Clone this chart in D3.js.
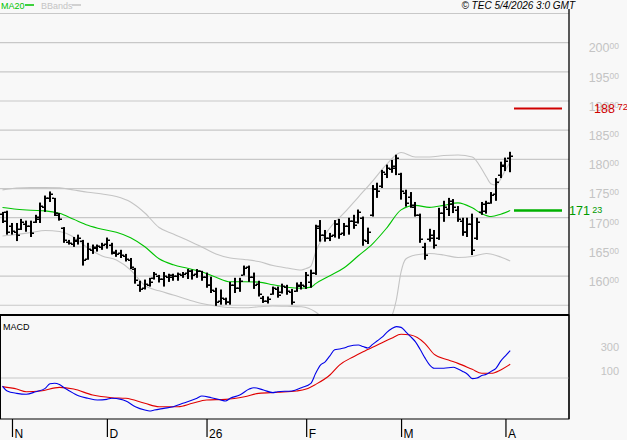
<!DOCTYPE html>
<html><head><meta charset="utf-8">
<script src="https://cdn.jsdelivr.net/npm/d3@7"></script>
<style>body{margin:0;background:#f8f8f8}svg{display:block}</style>
</head><body>
<svg id="c" width="627" height="440"></svg>
<script>
// ---- DATA (bar index 0 = 30 Oct 2025, last = 2 Apr 2026) ----
const opens = [
170.7,171.0,168.5,167.6,168.0,169.0,168.6,169.3,169.8,171.8,
173.4,173.3,170.5,168.2,165.9,165.5,166.0,166.0,163.0,164.5,
164.8,165.0,165.5,165.4,164.2,163.9,163.4,162.8,161.2,158.4,
158.0,158.5,159.6,160.0,159.5,159.8,159.9,160.0,160.2,160.5,
160.8,160.3,160.8,159.9,158.5,157.5,155.8,156.0,155.6,158.5,
158.0,160.2,161.5,159.8,158.6,156.3,155.7,156.9,157.8,157.3,
158.2,157.2,157.5,158.3,158.3,159.0,160.6,168.5,167.0,166.6,
167.0,169.0,167.3,168.5,169.4,169.2,170.0,166.0,170.4,175.0,
175.4,177.5,178.4,178.5,177.5,174.2,173.5,171.8,170.5,165.0,
166.3,166.6,166.5,170.8,171.5,172.4,171.4,169.5,167.5,169.0,
166.5,171.0,171.2,172.6,174.0,177.3,179.0,180.2];
const highs = [
171.0,171.2,169.1,169.1,169.8,169.5,169.5,170.5,172.6,173.8,
174.5,173.4,170.8,168.4,166.2,166.7,167.1,166.2,165.7,165.4,
165.4,165.7,166.6,165.7,164.5,164.5,163.8,163.1,161.4,159.2,
159.4,159.7,160.7,160.2,160.7,160.4,160.4,160.6,160.7,161.2,
161.1,161.2,160.9,160.6,159.9,158.0,157.7,156.3,159.0,159.7,
159.7,161.8,161.8,160.6,159.2,156.6,156.5,158.2,158.2,158.7,
158.5,157.8,158.9,159.0,160.7,161.1,168.8,169.6,167.9,167.4,
169.6,169.8,169.1,170.0,170.5,171.4,170.2,168.3,175.6,176.0,
178.2,179.1,179.9,180.8,177.7,174.8,174.4,172.7,170.7,165.7,
168.1,167.9,171.7,172.9,173.4,173.2,172.0,170.0,170.0,170.7,
170.0,172.7,172.9,174.4,176.8,179.6,180.3,181.3];
const lows = [
169.1,167.1,167.1,166.0,167.9,167.6,166.7,169.1,169.1,171.0,
172.7,170.3,169.5,165.7,165.4,165.0,165.4,161.8,162.8,163.8,
164.2,164.5,164.7,163.7,163.3,163.1,162.5,161.2,158.7,157.3,
157.7,158.2,159.4,158.9,158.2,159.0,159.2,159.2,159.7,159.5,
159.4,159.7,159.2,158.0,157.1,154.9,155.1,155.1,155.1,157.1,
157.3,160.1,159.0,157.8,156.5,155.4,155.3,156.8,156.3,157.0,
156.8,155.1,157.3,157.7,157.8,158.0,160.2,165.9,165.9,166.0,
166.6,166.4,166.9,167.1,168.1,169.0,165.2,165.5,170.2,173.4,
175.1,176.8,177.7,177.3,173.1,171.9,171.7,170.2,165.7,162.8,
165.9,164.7,166.2,169.3,170.3,170.8,169.3,166.9,166.7,163.6,
166.2,170.5,170.7,172.4,172.9,176.8,178.0,177.8];
const closes = [
169.5,167.6,167.8,167.0,169.2,168.5,167.3,170.1,172.0,173.3,
174.0,170.8,169.8,166.2,165.6,166.2,166.5,162.8,164.6,164.9,
165.1,165.4,166.2,164.0,163.8,163.6,162.9,161.6,159.3,157.8,
158.6,159.0,160.3,159.5,160.0,160.1,160.0,160.3,160.4,160.8,
160.1,160.9,159.8,158.4,157.6,155.6,156.2,155.6,158.4,158.0,
159.2,161.4,159.8,158.5,157.0,155.8,156.0,157.9,156.8,158.3,
157.5,155.6,158.4,158.5,160.2,160.6,168.2,167.0,166.6,166.9,
169.0,167.2,168.6,169.5,168.8,170.9,166.2,167.5,175.0,174.6,
177.8,178.6,178.9,180.2,174.5,172.6,172.2,170.5,166.3,163.6,
167.0,165.3,170.8,171.9,172.8,171.8,169.8,167.6,168.9,164.5,
169.2,172.4,172.6,173.9,176.2,178.9,179.8,180.6];

// MA20 and Bollinger bands, read at selected bar indices
const maIdx = [0,3,6,9,12,15,18,21,24,27,30,33,36,39,42,45,48,51,54,57,60,63,65,66,69,72,75,78,81,84,87,90,93,96,99,101,103,105,107];
const maVal = [171.75,171.44,171.27,171.18,170.75,169.73,168.70,168.01,167.50,166.56,165.02,162.96,161.93,161.33,160.74,159.79,159.02,159.02,158.97,158.51,158.08,157.91,158.10,158.70,160.05,161.42,163.48,165.53,168.27,171.35,172.12,171.78,172.12,172.55,171.69,170.70,170.20,170.60,171.23];
const upIdx = [0,3,6,9,12,15,18,21,24,27,30,33,36,39,42,45,48,51,54,57,60,63,64,65,66,69,72,75,78,81,84,87,90,93,96,99,101,102,103,104,105,106,107];
const upVal = [174.78,175.09,175.18,175.18,175.14,174.75,174.37,174.06,173.63,172.69,170.81,168.32,167.21,166.15,164.98,163.78,163.09,162.84,162.49,161.81,161.38,161.04,161.29,161.72,164.12,168.24,170.81,173.55,176.29,179.20,181.17,180.40,180.40,180.66,180.75,180.40,178.35,176.98,175.78,175.61,176.63,178.18,179.55];
const loIdx = [0,3,6,9,12,15,18,21,24,27,30,33,36,39,42,45,48,51,54,57,60,63,66,69,72,75,78,81,83,84,85,87,90,93,96,99,102,105,107];
const loVal = [166.86,167.12,167.46,167.81,167.64,166.69,164.81,163.44,162.75,161.04,158.38,157.47,156.75,155.98,155.30,154.87,154.61,154.58,154.73,154.87,154.82,154.73,153.84,151.61,150.41,149.90,150.24,151.61,155.90,160.70,162.92,163.61,163.87,163.61,163.18,163.35,163.87,163.27,162.58];

// MACD (blue) and signal (red)
const macdIdx = [0,1,3,5,7,9,10,11,12,13,15,16,18,20,22,23,25,26,28,30,31,32,34,36,38,41,42,44,46,47,48,50,52,53,55,57,58,61,63,65,66,67,68,69,70,71,72,73,75,76,77,78,79,80,81,82,83,84,85,86,87,88,89,90,91,93,95,96,97,98,99,100,101,102,103,104,105,106,107];
const macdVal = [-67,-108,-128,-136,-114,-86,-48,-44,-55,-81,-128,-148,-169,-183,-178,-169,-178,-192,-239,-267,-275,-267,-253,-239,-211,-169,-150,-164,-183,-192,-169,-142,-92,-81,-100,-122,-114,-108,-81,-44,39,108,135,185,235,242,250,265,275,262,250,280,310,340,380,410,428,422,385,345,303,240,170,110,81,81,89,75,55,31,-5,0,20,31,55,81,140,185,228];
const sigIdx = [0,3,5,8,12,15,19,23,26,30,33,37,40,43,47,51,54,58,62,64,66,69,71,74,76,79,82,84,86,89,91,94,96,99,101,103,105,107];
const sigVal = [-72,-92,-114,-108,-78,-92,-142,-164,-169,-211,-239,-239,-211,-183,-178,-156,-128,-119,-108,-92,-53,25,108,178,219,275,331,364,358,289,197,150,122,72,39,39,67,114];

const gridVals = [155,160,165,170,175,180,185,190,195,200,205];
const priceTicks = [160,165,170,175,180,185,190,195,200];
const macdTicks = [100,300];
const monthIdx = [2,22,43,64,84,106];
const monthLabels = ["N","D","26","F","M","A"];
const targetLevel = 188.72;
const maLast = 171.23;

// ---- DRAW ----
const svg = d3.select('#c');
const FONT = "'Liberation Sans', Arial, sans-serif";
svg.append('rect').attr('width',627).attr('height',440).attr('fill','#f8f8f8');

const x = d3.scaleLinear().domain([0,107]).range([2.5,510.2]);
const y = d3.scaleLinear().domain([153.5,205.6]).range([314,10]);
const ym = d3.scaleLinear().domain([-333.3,516.7]).range([418,316]);
const PR = 569;

const defs = svg.append('defs');
defs.append('clipPath').attr('id','cm').append('rect').attr('x',0).attr('y',10).attr('width',PR).attr('height',304);
defs.append('clipPath').attr('id','cd').append('rect').attr('x',0).attr('y',316).attr('width',PR).attr('height',102);

const main = svg.append('g').attr('clip-path','url(#cm)');
main.selectAll('line.grid').data(gridVals).join('line')
  .attr('x1',0).attr('x2',PR).attr('y1',d=>y(d)).attr('y2',d=>y(d))
  .attr('stroke','#c8c8c8').attr('stroke-width',1.2);

const lineOf = (idx, sc) => d3.line().x((d,i)=>x(idx[i])).y(d=>sc(d)).curve(d3.curveMonotoneX);
main.append('path').attr('d',lineOf(upIdx,y)(upVal)).attr('fill','none').attr('stroke','#c4c4c4').attr('stroke-width',1.1);
main.append('path').attr('d',lineOf(loIdx,y)(loVal)).attr('fill','none').attr('stroke','#c4c4c4').attr('stroke-width',1.1);
main.append('path').attr('d',lineOf(maIdx,y)(maVal)).attr('fill','none').attr('stroke','#00c400').attr('stroke-width',1.1);

const bars = main.append('g').attr('fill','#000');
closes.forEach((c,i)=>{
  const cx = Math.round(x(i));
  const yh = y(highs[i]), yl = y(lows[i]);
  bars.append('rect').attr('x',cx-1).attr('y',yh).attr('width',2).attr('height',Math.max(1,yl-yh));
  bars.append('rect').attr('x',cx-3).attr('y',Math.round(y(opens[i]))-0.5).attr('width',2).attr('height',1.5);
  bars.append('rect').attr('x',cx+1).attr('y',Math.round(y(c))-0.5).attr('width',2).attr('height',1.5);
});

// target and MA level markers
svg.append('line').attr('x1',514).attr('x2',562).attr('y1',y(targetLevel)).attr('y2',y(targetLevel)).attr('stroke','#d00000').attr('stroke-width',2);
svg.append('line').attr('x1',514).attr('x2',562).attr('y1',y(maLast)).attr('y2',y(maLast)).attr('stroke','#00b000').attr('stroke-width',2.5);

// price axis
const pAxis = svg.append('g').attr('transform',`translate(619,0)`)
  .call(d3.axisRight(y).tickValues(priceTicks).tickSize(0));
pAxis.select('.domain').remove();
pAxis.selectAll('text').each(function(d){
  const t = d3.select(this).text('').attr('x',0).attr('dy',null).attr('y',9.3)
    .attr('text-anchor','end').attr('fill','#c4c4c4').style('font-family',FONT).style('font-size','12.5px');
  const s = d.toFixed(2).split('.');
  t.append('tspan').text(s[0]);
  t.append('tspan').text(s[1]).style('font-size','8.5px').attr('dy',-3);
});

function levelLabel(v, xx, col, big, small){
  const s = v.toFixed(2).split('.');
  const t = svg.append('text').attr('x',xx).attr('y',y(v)+4.5).attr('fill',col)
    .style('font-family',FONT).style('font-size',big+'px');
  t.append('tspan').text(s[0]);
  t.append('tspan').text(' '+s[1]).style('font-size',small+'px').attr('dy',-2.5);
}
levelLabel(targetLevel, 594, '#d00000', 12.5, 9.5);
levelLabel(maLast, 569, '#009a00', 12.5, 9);

// main panel borders
svg.append('line').attr('x1',PR).attr('x2',PR).attr('y1',9).attr('y2',419).attr('stroke','#000').attr('stroke-width',1.3);
svg.append('line').attr('x1',0).attr('x2',PR).attr('y1',315).attr('y2',315).attr('stroke','#000').attr('stroke-width',2);

// MACD panel
const mg = svg.append('g').attr('clip-path','url(#cd)');
mg.append('line').attr('x1',0).attr('x2',PR).attr('y1',ym(0)).attr('y2',ym(0)).attr('stroke','#c8c8c8').attr('stroke-width',1.2);
mg.append('path').attr('d',lineOf(sigIdx,ym)(sigVal)).attr('fill','none').attr('stroke','#e00000').attr('stroke-width',1.1);
mg.append('path').attr('d',lineOf(macdIdx,ym)(macdVal)).attr('fill','none').attr('stroke','#0000e8').attr('stroke-width',1.1);
svg.append('rect').attr('x',0.5).attr('y',315).attr('width',PR-0.5).attr('height',104).attr('fill','none').attr('stroke','#000').attr('stroke-width',1);
svg.append('text').attr('x',3).attr('y',330).text('MACD').attr('fill','#000').style('font-family',FONT).style('font-size','9px');

const mAxis = svg.append('g').attr('transform','translate(619,0)')
  .call(d3.axisRight(ym).tickValues(macdTicks).tickSize(0).tickFormat(d3.format('d')));
mAxis.select('.domain').remove();
mAxis.selectAll('text').attr('x',0).attr('dy',null).attr('y',8.5).attr('text-anchor','end')
  .attr('fill','#c4c4c4').style('font-family',FONT).style('font-size','11px');

// time axis
const xAxis = svg.append('g').attr('transform','translate(0,419)')
  .call(d3.axisBottom(x).tickValues(monthIdx).tickSize(18).tickFormat((d,i)=>monthLabels[i]));
xAxis.select('.domain').remove();
xAxis.selectAll('line').attr('stroke','#000').attr('stroke-width',1.2);
xAxis.selectAll('text').attr('x',2).attr('y',18.5).attr('dy',null).attr('text-anchor','start')
  .attr('fill','#000').style('font-family',FONT).style('font-size','12px');

// header legend
svg.append('text').attr('x',1).attr('y',8.5).text('MA20').attr('fill','#00c400').style('font-family',FONT).style('font-size','9px');
svg.append('line').attr('x1',25).attr('x2',34).attr('y1',5).attr('y2',5).attr('stroke','#00c400').attr('stroke-width',1.5);
svg.append('text').attr('x',41).attr('y',8.5).text('BBands').attr('fill','#c4c4c4').style('font-family',FONT).style('font-size','9px');
svg.append('line').attr('x1',72).attr('x2',81).attr('y1',5).attr('y2',5).attr('stroke','#c4c4c4').attr('stroke-width',1.5);
svg.append('text').attr('x',575).attr('y',8.5).attr('text-anchor','end').text('© TEC 5/4/2026 3:0 GMT')
  .attr('fill','#000').style('font-family',FONT).style('font-size','10px').style('font-style','italic');
</script>
</body></html>
